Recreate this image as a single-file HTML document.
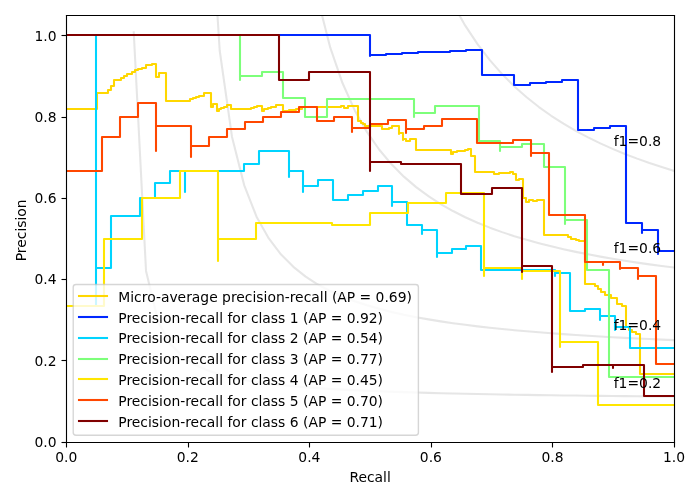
<!DOCTYPE html>
<html lang="en"><head><meta charset="utf-8"><title>Precision-Recall</title>
<style>html,body{margin:0;padding:0;background:#fff}svg{display:block}</style></head>
<body>
<svg width="700" height="500" viewBox="0 0 504 360">
 <defs>
  <style type="text/css">*{stroke-linejoin: round; stroke-linecap: butt}</style>
 </defs>
 <g id="figure_1">
  <g id="patch_1">
   <path d="M 0 360 L 504 360 L 504 0 L 0 0 z" style="fill: #ffffff"/>
  </g>
  <g id="axes_1">
   <g id="patch_2">
    <path d="M 47.720016 318.039984 L 485.28 318.039984 L 485.28 10.8 L 47.720016 10.8 z" style="fill: #ffffff"/>
   </g>
   <g id="matplotlib.axis_1">
    <g id="xtick_1">
     <g id="line2d_1">
      <g>
       <path d="M 47.88 318.6 L 47.88 322.2" style="stroke: #000000; stroke-width: 0.8"/>
      </g>
     </g>
     <g id="text_1">
      <text style="font-size: 10px; font-family: 'DejaVu Sans', 'Liberation Sans', sans-serif; text-anchor: middle" x="47.720016" y="332.9984">0.0</text>
     </g>
    </g>
    <g id="xtick_2">
     <g id="line2d_2">
      <g>
       <path d="M 135.72 318.6 L 135.72 322.2" style="stroke: #000000; stroke-width: 0.8"/>
      </g>
     </g>
     <g id="text_2">
      <text style="font-size: 10px; font-family: 'DejaVu Sans', 'Liberation Sans', sans-serif; text-anchor: middle" x="135.232013" y="332.9984">0.2</text>
     </g>
    </g>
    <g id="xtick_3">
     <g id="line2d_3">
      <g>
       <path d="M 222.84 318.6 L 222.84 322.2" style="stroke: #000000; stroke-width: 0.8"/>
      </g>
     </g>
     <g id="text_3">
      <text style="font-size: 10px; font-family: 'DejaVu Sans', 'Liberation Sans', sans-serif; text-anchor: middle" x="222.74401" y="332.9984">0.4</text>
     </g>
    </g>
    <g id="xtick_4">
     <g id="line2d_4">
      <g>
       <path d="M 310.68 318.6 L 310.68 322.2" style="stroke: #000000; stroke-width: 0.8"/>
      </g>
     </g>
     <g id="text_4">
      <text style="font-size: 10px; font-family: 'DejaVu Sans', 'Liberation Sans', sans-serif; text-anchor: middle" x="310.256006" y="332.9984">0.6</text>
     </g>
    </g>
    <g id="xtick_5">
     <g id="line2d_5">
      <g>
       <path d="M 397.8 318.6 L 397.8 322.2" style="stroke: #000000; stroke-width: 0.8"/>
      </g>
     </g>
     <g id="text_5">
      <text style="font-size: 10px; font-family: 'DejaVu Sans', 'Liberation Sans', sans-serif; text-anchor: middle" x="397.768003" y="332.9984">0.8</text>
     </g>
    </g>
    <g id="xtick_6">
     <g id="line2d_6">
      <g>
       <path d="M 485.64 318.6 L 485.64 322.2" style="stroke: #000000; stroke-width: 0.8"/>
      </g>
     </g>
     <g id="text_6">
      <text style="font-size: 10px; font-family: 'DejaVu Sans', 'Liberation Sans', sans-serif; text-anchor: middle" x="485.28" y="332.9984">1.0</text>
     </g>
    </g>
    <g id="text_7">
     <text style="font-size: 10px; font-family: 'DejaVu Sans', 'Liberation Sans', sans-serif; text-anchor: middle" x="266.5" y="347.0365">Recall</text>
    </g>
   </g>
   <g id="matplotlib.axis_2">
    <g id="ytick_1">
     <g id="line2d_7">
      <g>
       <path d="M 47.88 318.6 L 44.28 318.6" style="stroke: #000000; stroke-width: 0.8"/>
      </g>
     </g>
     <g id="text_8">
      <text style="font-size: 10px; font-family: 'DejaVu Sans', 'Liberation Sans', sans-serif; text-anchor: end" x="40.720016" y="321.839203">0.0</text>
     </g>
    </g>
    <g id="ytick_2">
     <g id="line2d_8">
      <g>
       <path d="M 47.88 259.56 L 44.28 259.56" style="stroke: #000000; stroke-width: 0.8"/>
      </g>
     </g>
     <g id="text_9">
      <text style="font-size: 10px; font-family: 'DejaVu Sans', 'Liberation Sans', sans-serif; text-anchor: end" x="40.720016" y="263.317301">0.2</text>
     </g>
    </g>
    <g id="ytick_3">
     <g id="line2d_9">
      <g>
       <path d="M 47.88 201.24 L 44.28 201.24" style="stroke: #000000; stroke-width: 0.8"/>
      </g>
     </g>
     <g id="text_10">
      <text style="font-size: 10px; font-family: 'DejaVu Sans', 'Liberation Sans', sans-serif; text-anchor: end" x="40.720016" y="204.795399">0.4</text>
     </g>
    </g>
    <g id="ytick_4">
     <g id="line2d_10">
      <g>
       <path d="M 47.88 142.92 L 44.28 142.92" style="stroke: #000000; stroke-width: 0.8"/>
      </g>
     </g>
     <g id="text_11">
      <text style="font-size: 10px; font-family: 'DejaVu Sans', 'Liberation Sans', sans-serif; text-anchor: end" x="40.720016" y="146.273498">0.6</text>
     </g>
    </g>
    <g id="ytick_5">
     <g id="line2d_11">
      <g>
       <path d="M 47.88 84.6 L 44.28 84.6" style="stroke: #000000; stroke-width: 0.8"/>
      </g>
     </g>
     <g id="text_12">
      <text style="font-size: 10px; font-family: 'DejaVu Sans', 'Liberation Sans', sans-serif; text-anchor: end" x="40.720016" y="87.751596">0.8</text>
     </g>
    </g>
    <g id="ytick_6">
     <g id="line2d_12">
      <g>
       <path d="M 47.88 25.56 L 44.28 25.56" style="stroke: #000000; stroke-width: 0.8"/>
      </g>
     </g>
     <g id="text_13">
      <text style="font-size: 10px; font-family: 'DejaVu Sans', 'Liberation Sans', sans-serif; text-anchor: end" x="40.720016" y="29.229694">1.0</text>
     </g>
    </g>
    <g id="text_14">
     <text style="font-size: 10px; font-family: 'DejaVu Sans', 'Liberation Sans', sans-serif; text-anchor: middle" x="18.7372" y="165.86" transform="rotate(-90 18.7372 165.86)">Precision</text>
    </g>
   </g>
   <g id="line2d_13">
    <path d="M 96.298104 23.262998 L 105.138602 195.067491 L 113.979099 231.88274 L 122.819597 247.930412 L 131.660095 256.917109 L 140.500592 262.662702 L 149.34109 266.652697 L 158.181587 269.585103 L 167.022085 271.831201 L 175.862583 273.606688 L 184.70308 275.045445 L 193.543578 276.234968 L 202.384076 277.234858 L 211.224573 278.087112 L 220.065071 278.822182 L 228.905569 279.462681 L 237.746066 280.025757 L 246.586564 280.524649 L 255.427061 280.969738 L 264.267559 281.369283 L 273.108057 281.729935 L 281.948554 282.057108 L 290.789052 282.355258 L 299.62955 282.628083 L 308.470047 282.878677 L 317.310545 283.109652 L 326.151043 283.323224 L 334.99154 283.52129 L 343.832038 283.705478 L 352.672535 283.877199 L 361.513033 284.037675 L 370.353531 284.187978 L 379.194028 284.329044 L 388.034526 284.461699 L 396.875024 284.586675 L 405.715521 284.704618 L 414.556019 284.816107 L 423.396517 284.921657 L 432.237014 285.021731 L 441.077512 285.116743 L 449.918009 285.207069 L 458.758507 285.293046 L 467.599005 285.374981 L 476.439502 285.453154 L 485.28 285.527816" clip-path="url(#pd7bb77e04b)" style="fill: none; stroke: #808080; stroke-opacity: 0.2; stroke-width: 1.5; stroke-linecap: square"/>
   </g>
   <g id="line2d_14">
    <path d="M 155.81947 -1 L 158.181587 36.360636 L 167.022085 98.418465 L 175.862583 133.470909 L 184.70308 155.995585 L 193.543578 171.69042 L 202.384076 183.252838 L 211.224573 192.125058 L 220.065071 199.148121 L 228.905569 204.845572 L 237.746066 209.560361 L 246.586564 213.526532 L 255.427061 216.909268 L 264.267559 219.828488 L 273.108057 222.373352 L 281.948554 224.611531 L 290.789052 226.595313 L 299.62955 228.365739 L 308.470047 229.955472 L 317.310545 231.390832 L 326.151043 232.693263 L 334.99154 233.880414 L 343.832038 234.966942 L 352.672535 235.96512 L 361.513033 236.885303 L 370.353531 237.736288 L 379.194028 238.525599 L 388.034526 239.259706 L 396.875024 239.944204 L 405.715521 240.583958 L 414.556019 241.183215 L 423.396517 241.745704 L 432.237014 242.274708 L 441.077512 242.773129 L 449.918009 243.243547 L 458.758507 243.688255 L 467.599005 244.109306 L 476.439502 244.508539 L 485.28 244.887607" clip-path="url(#pd7bb77e04b)" style="fill: none; stroke: #808080; stroke-opacity: 0.2; stroke-width: 1.5; stroke-linecap: square"/>
   </g>
   <g id="line2d_15">
    <path d="M 228.831735 -1 L 228.905569 -0.585075 L 237.746066 34.146503 L 246.586564 59.793732 L 255.427061 79.508541 L 264.267559 95.135882 L 273.108057 107.827536 L 281.948554 118.339704 L 290.789052 127.189405 L 299.62955 134.74211 L 308.470047 141.263481 L 317.310545 146.951261 L 326.151043 151.955679 L 334.99154 156.392911 L 343.832038 160.35421 L 352.672535 163.912251 L 361.513033 167.125628 L 370.353531 170.042109 L 379.194028 172.701024 L 388.034526 175.13505 L 396.875024 177.37156 L 405.715521 179.43366 L 414.556019 181.340985 L 423.396517 183.110331 L 432.237014 184.756146 L 441.077512 186.290933 L 449.918009 187.725558 L 458.758507 189.069518 L 467.599005 190.331143 L 476.439502 191.517776 L 485.28 192.635909" clip-path="url(#pd7bb77e04b)" style="fill: none; stroke: #808080; stroke-opacity: 0.2; stroke-width: 1.5; stroke-linecap: square"/>
   </g>
   <g id="line2d_16">
    <path d="M 324.293677 -1 L 326.151043 2.890952 L 334.99154 18.493512 L 343.832038 31.817822 L 352.672535 43.328926 L 361.513033 53.373365 L 370.353531 62.214659 L 379.194028 70.056766 L 388.034526 77.060008 L 396.875024 83.352153 L 405.715521 89.036271 L 414.556019 94.196434 L 423.396517 98.901897 L 432.237014 103.210224 L 441.077512 107.169655 L 449.918009 110.820923 L 458.758507 114.198657 L 467.599005 117.332484 L 476.439502 120.247904 L 485.28 122.966978" clip-path="url(#pd7bb77e04b)" style="fill: none; stroke: #808080; stroke-opacity: 0.2; stroke-width: 1.5; stroke-linecap: square"/>
   </g>
   <g id="line2d_17">
    <path d="M 47.52 78.48 L 69.84 78.48 L 69.84 66.96 L 77.76 66.96 L 77.76 64.8 L 79.92 64.8 L 79.92 61.92 L 82.08 61.92 L 82.08 57.6 L 87.12 57.6 L 87.12 56.16 L 89.28 56.16 L 89.28 54.72 L 91.44 54.72 L 91.44 53.28 L 95.04 53.28 L 95.04 51.84 L 97.2 51.84 L 97.2 50.4 L 99.36 50.4 L 99.36 49.68 L 102.24 49.68 L 102.24 48.96 L 105.12 48.96 L 105.12 46.8 L 109.44 46.8 L 109.44 46.08 L 112.32 46.08 L 112.32 55.44 L 114.48 55.44 L 114.48 52.56 L 119.52 52.56 L 119.52 72.72 L 136.8 72.72 L 136.8 71.28 L 138.96 71.28 L 138.96 70.56 L 141.12 70.56 L 141.12 69.84 L 143.28 69.84 L 143.28 69.12 L 146.88 69.12 L 146.88 66.96 L 151.92 66.96 L 151.92 77.04 L 153.36 77.04 L 153.36 74.88 L 156.24 74.88 L 156.24 79.92 L 157.68 79.92 L 157.68 78.48 L 159.12 78.48 L 159.12 77.76 L 161.28 77.76 L 161.28 77.04 L 163.44 77.04 L 163.44 75.6 L 166.32 75.6 L 166.32 78.48 L 180.72 78.48 L 180.72 77.76 L 182.88 77.76 L 182.88 77.04 L 185.04 77.04 L 185.04 76.32 L 188.64 76.32 L 188.64 79.92 L 190.08 79.92 L 190.08 78.48 L 192.96 78.48 L 192.96 77.76 L 195.12 77.76 L 195.12 77.04 L 198.72 77.04 L 198.72 75.6 L 203.76 75.6 L 203.76 79.92 L 208.08 79.92 L 208.08 79.2 L 213.12 79.2 L 213.12 78.48 L 217.44 78.48 L 217.44 77.04 L 245.52 77.04 L 245.52 76.32 L 247.68 76.32 L 247.68 77.76 L 250.56 77.76 L 250.56 76.32 L 257.76 76.32 L 257.76 87.12 L 259.92 87.12 L 259.92 88.56 L 261.36 88.56 L 261.36 89.28 L 262.8 89.28 L 262.8 90.72 L 275.04 90.72 L 275.04 92.88 L 280.08 92.88 L 280.08 92.16 L 282.24 92.16 L 282.24 90.72 L 287.28 90.72 L 287.28 96.48 L 287.28 95.76 L 290.16 95.76 L 290.16 100.8 L 290.16 100.08 L 292.32 100.08 L 292.32 101.52 L 295.2 101.52 L 295.2 100.08 L 299.52 100.08 L 299.52 108 L 324.72 108 L 324.72 110.88 L 326.16 110.88 L 326.16 109.44 L 329.04 109.44 L 329.04 108.72 L 334.8 108.72 L 334.8 108 L 336.96 108 L 336.96 107.28 L 339.12 107.28 L 339.12 112.32 L 342 112.32 L 342 123.84 L 355.68 123.84 L 355.68 125.28 L 359.28 125.28 L 359.28 124.56 L 367.2 124.56 L 367.2 123.84 L 369.36 123.84 L 369.36 125.28 L 371.52 125.28 L 371.52 129.6 L 373.68 129.6 L 373.68 128.88 L 376.56 128.88 L 376.56 142.56 L 378.72 142.56 L 378.72 145.44 L 380.88 145.44 L 380.88 144 L 383.76 144 L 383.76 144.72 L 386.64 144.72 L 386.64 144 L 391.68 144 L 391.68 169.2 L 408.96 169.2 L 408.96 170.64 L 411.12 170.64 L 411.12 172.08 L 414.72 172.08 L 414.72 172.8 L 416.88 172.8 L 416.88 173.52 L 421.2 173.52 L 421.2 204.48 L 428.4 204.48 L 428.4 205.92 L 430.56 205.92 L 430.56 208.08 L 432.72 208.08 L 432.72 210.24 L 435.6 210.24 L 435.6 212.4 L 439.92 212.4 L 439.92 214.56 L 444.24 214.56 L 444.24 218.88 L 447.84 218.88 L 447.84 220.32 L 450.72 220.32 L 450.72 235.44 L 452.88 235.44 L 452.88 237.6 L 455.04 237.6 L 455.04 239.04 L 457.92 239.04 L 457.92 240.48 L 460.8 240.48 L 460.8 269.28 L 486 269.28" clip-path="url(#pd7bb77e04b)" style="fill: none; stroke: #ffd700; stroke-width: 1.5; stroke-linecap: square"/>
   </g>
   <g id="line2d_18">
    <path d="M 47.52 25.2 L 266.4 25.2 L 266.4 40.32 L 266.4 39.6 L 277.92 39.6 L 277.92 38.88 L 289.44 38.88 L 289.44 38.16 L 300.96 38.16 L 300.96 37.44 L 324 37.44 L 324 36.72 L 335.52 36.72 L 335.52 36 L 347.04 36 L 347.04 54 L 370.08 54 L 370.08 61.2 L 381.6 61.2 L 381.6 59.76 L 393.12 59.76 L 393.12 59.04 L 404.64 59.04 L 404.64 57.6 L 416.16 57.6 L 416.16 93.6 L 427.68 93.6 L 427.68 92.16 L 439.2 92.16 L 439.2 90.72 L 450.72 90.72 L 450.72 160.56 L 462.24 160.56 L 462.24 167.76 L 462.24 165.6 L 473.76 165.6 L 473.76 182.88 L 473.76 180.72 L 485.28 180.72" clip-path="url(#pd7bb77e04b)" style="fill: none; stroke: #0028ff; stroke-width: 1.5; stroke-linecap: square"/>
   </g>
   <g id="line2d_19">
    <path d="M 47.52 25.2 L 69.12 25.2 L 69.12 220.32 L 69.12 192.96 L 79.92 192.96 L 79.92 155.52 L 100.8 155.52 L 100.8 142.56 L 111.6 142.56 L 111.6 131.76 L 122.4 131.76 L 122.4 123.12 L 133.2 123.12 L 133.2 138.24 L 133.2 123.12 L 175.68 123.12 L 175.68 118.08 L 186.48 118.08 L 186.48 108.72 L 208.08 108.72 L 208.08 127.44 L 208.08 123.12 L 218.16 123.12 L 218.16 138.24 L 218.16 133.92 L 228.96 133.92 L 228.96 129.6 L 239.76 129.6 L 239.76 144 L 250.56 144 L 250.56 140.4 L 261.36 140.4 L 261.36 137.52 L 272.16 137.52 L 272.16 133.92 L 282.24 133.92 L 282.24 148.32 L 282.24 145.44 L 293.04 145.44 L 293.04 162 L 303.84 162 L 303.84 168.48 L 303.84 165.6 L 314.64 165.6 L 314.64 185.04 L 314.64 182.16 L 325.44 182.16 L 325.44 179.28 L 335.52 179.28 L 335.52 177.12 L 346.32 177.12 L 346.32 194.4 L 399.6 194.4 L 399.6 198.72 L 399.6 196.56 L 410.4 196.56 L 410.4 223.92 L 421.2 223.92 L 421.2 222.48 L 432 222.48 L 432 230.4 L 432 227.52 L 442.8 227.52 L 442.8 237.6 L 442.8 235.44 L 453.6 235.44 L 453.6 250.56 L 485.28 250.56" clip-path="url(#pd7bb77e04b)" style="fill: none; stroke: #00d4ff; stroke-width: 1.5; stroke-linecap: square"/>
   </g>
   <g id="line2d_20">
    <path d="M 47.52 25.2 L 172.8 25.2 L 172.8 57.6 L 172.8 54.72 L 188.64 54.72 L 188.64 51.84 L 203.76 51.84 L 203.76 70.56 L 219.6 70.56 L 219.6 84.24 L 235.44 84.24 L 235.44 71.28 L 298.08 71.28 L 298.08 84.24 L 298.08 81.36 L 313.2 81.36 L 313.2 76.32 L 344.88 76.32 L 344.88 101.52 L 360 101.52 L 360 108.72 L 360 105.84 L 375.84 105.84 L 375.84 103.68 L 391.68 103.68 L 391.68 120.24 L 406.8 120.24 L 406.8 161.28 L 406.8 158.4 L 422.64 158.4 L 422.64 194.4 L 438.48 194.4 L 438.48 271.44 L 485.28 271.44" clip-path="url(#pd7bb77e04b)" style="fill: none; stroke: #7dff7a; stroke-width: 1.5; stroke-linecap: square"/>
   </g>
   <g id="line2d_21">
    <path d="M 47.52 220.32 L 74.88 220.32 L 74.88 172.08 L 102.24 172.08 L 102.24 142.56 L 129.6 142.56 L 129.6 123.12 L 156.96 123.12 L 156.96 187.92 L 156.96 172.08 L 184.32 172.08 L 184.32 160.56 L 239.04 160.56 L 239.04 162 L 266.4 162 L 266.4 153.36 L 293.76 153.36 L 293.76 146.16 L 321.12 146.16 L 321.12 138.96 L 348.48 138.96 L 348.48 198.72 L 348.48 192.96 L 375.84 192.96 L 375.84 200.88 L 375.84 195.12 L 403.2 195.12 L 403.2 249.84 L 403.2 246.24 L 430.56 246.24 L 430.56 291.6 L 485.28 291.6" clip-path="url(#pd7bb77e04b)" style="fill: none; stroke: #ffe600; stroke-width: 1.5; stroke-linecap: square"/>
   </g>
   <g id="line2d_22">
    <path d="M 47.52 123.12 L 73.44 123.12 L 73.44 98.64 L 86.4 98.64 L 86.4 84.24 L 99.36 84.24 L 99.36 74.16 L 112.32 74.16 L 112.32 108.72 L 112.32 90.72 L 137.52 90.72 L 137.52 113.04 L 137.52 105.12 L 150.48 105.12 L 150.48 98.64 L 163.44 98.64 L 163.44 92.88 L 176.4 92.88 L 176.4 87.84 L 189.36 87.84 L 189.36 84.24 L 202.32 84.24 L 202.32 80.64 L 215.28 80.64 L 215.28 77.04 L 228.24 77.04 L 228.24 87.12 L 240.48 87.12 L 240.48 84.24 L 253.44 84.24 L 253.44 95.04 L 253.44 92.16 L 266.4 92.16 L 266.4 89.28 L 279.36 89.28 L 279.36 86.4 L 292.32 86.4 L 292.32 95.76 L 292.32 92.88 L 305.28 92.88 L 305.28 90.72 L 318.24 90.72 L 318.24 85.68 L 343.44 85.68 L 343.44 102.96 L 369.36 102.96 L 369.36 100.8 L 382.32 100.8 L 382.32 112.32 L 382.32 110.16 L 395.28 110.16 L 395.28 154.8 L 421.2 154.8 L 421.2 188.64 L 434.16 188.64 L 434.16 190.8 L 434.16 188.64 L 446.4 188.64 L 446.4 193.68 L 446.4 192.96 L 459.36 192.96 L 459.36 200.88 L 459.36 198.72 L 472.32 198.72 L 472.32 262.08 L 485.28 262.08" clip-path="url(#pd7bb77e04b)" style="fill: none; stroke: #ff4700; stroke-width: 1.5; stroke-linecap: square"/>
   </g>
   <g id="line2d_23">
    <path d="M 47.52 25.2 L 200.88 25.2 L 200.88 57.6 L 222.48 57.6 L 222.48 51.84 L 266.4 51.84 L 266.4 123.12 L 266.4 116.64 L 288.72 116.64 L 288.72 118.08 L 331.92 118.08 L 331.92 139.68 L 354.24 139.68 L 354.24 135.36 L 375.84 135.36 L 375.84 195.84 L 375.84 191.52 L 397.44 191.52 L 397.44 267.84 L 397.44 264.24 L 419.76 264.24 L 419.76 262.8 L 441.36 262.8 L 441.36 264.96 L 441.36 262.8 L 463.68 262.8 L 463.68 285.12 L 485.28 285.12" clip-path="url(#pd7bb77e04b)" style="fill: none; stroke: #800000; stroke-width: 1.5; stroke-linecap: square"/>
   </g>
   <g id="patch_3">
    <path d="M 47.88 318.6 L 47.88 11.16" style="fill: none; stroke: #000000; stroke-width: 0.8; stroke-linejoin: miter; stroke-linecap: square"/>
   </g>
   <g id="patch_4">
    <path d="M 485.64 318.6 L 485.64 11.16" style="fill: none; stroke: #000000; stroke-width: 0.8; stroke-linejoin: miter; stroke-linecap: square"/>
   </g>
   <g id="patch_5">
    <path d="M 47.88 318.6 L 485.64 318.6" style="fill: none; stroke: #000000; stroke-width: 0.8; stroke-linejoin: miter; stroke-linecap: square"/>
   </g>
   <g id="patch_6">
    <path d="M 47.88 11.16 L 485.64 11.16" style="fill: none; stroke: #000000; stroke-width: 0.8; stroke-linejoin: miter; stroke-linecap: square"/>
   </g>
   <g id="text_15">
    <text style="font-size: 10px; font-family: 'DejaVu Sans', 'Liberation Sans', sans-serif; text-anchor: start" x="441.884" y="279.3549">f1=0.2</text>
   </g>
   <g id="text_16">
    <text style="font-size: 10px; font-family: 'DejaVu Sans', 'Liberation Sans', sans-serif; text-anchor: start" x="441.884" y="237.3914">f1=0.4</text>
   </g>
   <g id="text_17">
    <text style="font-size: 10px; font-family: 'DejaVu Sans', 'Liberation Sans', sans-serif; text-anchor: start" x="441.884" y="181.8734">f1=0.6</text>
   </g>
   <g id="text_18">
    <text style="font-size: 10px; font-family: 'DejaVu Sans', 'Liberation Sans', sans-serif; text-anchor: start" x="441.884" y="104.9687">f1=0.8</text>
   </g>
   <g id="legend_1">
    <g id="patch_7">
     <path transform="translate(0 0.36)" d="M 54.720016 313.039984 L 299.254079 313.039984 Q 301.254079 313.039984 301.254079 311.039984 L 301.254079 206.453109 Q 301.254079 204.453109 299.254079 204.453109 L 54.720016 204.453109 Q 52.720016 204.453109 52.720016 206.453109 L 52.720016 311.039984 Q 52.720016 313.039984 54.720016 313.039984 z" style="fill: #ffffff; opacity: 0.8; stroke: #cccccc; stroke-linejoin: miter"/>
    </g>
    <g id="line2d_24">
     <path d="M 56.88 213.12 L 66.96 213.12 L 77.04 213.12" style="fill: none; stroke: #ffd700; stroke-width: 1.5; stroke-linecap: square"/>
    </g>
    <g id="text_19">
     <text style="font-size: 10px; font-family: 'DejaVu Sans', 'Liberation Sans', sans-serif; text-anchor: start" x="85.18" y="217.2315">Micro-average precision-recall (AP = 0.69)</text>
    </g>
    <g id="line2d_25">
     <path d="M 56.88 228.24 L 66.96 228.24 L 77.04 228.24" style="fill: none; stroke: #0028ff; stroke-width: 1.5; stroke-linecap: square"/>
    </g>
    <g id="text_20">
     <text style="font-size: 10px; font-family: 'DejaVu Sans', 'Liberation Sans', sans-serif; text-anchor: start" x="85.18" y="232.2297">Precision-recall for class 1 (AP = 0.92)</text>
    </g>
    <g id="line2d_26">
     <path d="M 56.88 243.36 L 66.96 243.36 L 77.04 243.36" style="fill: none; stroke: #00d4ff; stroke-width: 1.5; stroke-linecap: square"/>
    </g>
    <g id="text_21">
     <text style="font-size: 10px; font-family: 'DejaVu Sans', 'Liberation Sans', sans-serif; text-anchor: start" x="85.18" y="247.2278">Precision-recall for class 2 (AP = 0.54)</text>
    </g>
    <g id="line2d_27">
     <path d="M 56.88 258.48 L 66.96 258.48 L 77.04 258.48" style="fill: none; stroke: #7dff7a; stroke-width: 1.5; stroke-linecap: square"/>
    </g>
    <g id="text_22">
     <text style="font-size: 10px; font-family: 'DejaVu Sans', 'Liberation Sans', sans-serif; text-anchor: start" x="85.18" y="262.2259">Precision-recall for class 3 (AP = 0.77)</text>
    </g>
    <g id="line2d_28">
     <path d="M 56.88 272.88 L 66.96 272.88 L 77.04 272.88" style="fill: none; stroke: #ffe600; stroke-width: 1.5; stroke-linecap: square"/>
    </g>
    <g id="text_23">
     <text style="font-size: 10px; font-family: 'DejaVu Sans', 'Liberation Sans', sans-serif; text-anchor: start" x="85.18" y="277.224">Precision-recall for class 4 (AP = 0.45)</text>
    </g>
    <g id="line2d_29">
     <path d="M 56.88 288 L 66.96 288 L 77.04 288" style="fill: none; stroke: #ff4700; stroke-width: 1.5; stroke-linecap: square"/>
    </g>
    <g id="text_24">
     <text style="font-size: 10px; font-family: 'DejaVu Sans', 'Liberation Sans', sans-serif; text-anchor: start" x="85.18" y="292.2222">Precision-recall for class 5 (AP = 0.70)</text>
    </g>
    <g id="line2d_30">
     <path d="M 56.88 303.12 L 66.96 303.12 L 77.04 303.12" style="fill: none; stroke: #800000; stroke-width: 1.5; stroke-linecap: square"/>
    </g>
    <g id="text_25">
     <text style="font-size: 10px; font-family: 'DejaVu Sans', 'Liberation Sans', sans-serif; text-anchor: start" x="85.18" y="307.2203">Precision-recall for class 6 (AP = 0.71)</text>
    </g>
   </g>
  </g>
 </g>
 <defs>
  <clipPath id="pd7bb77e04b">
   <rect x="47.720016" y="10.8" width="437.559984" height="307.239984"/>
  </clipPath>
 </defs>
</svg>

</body></html>
